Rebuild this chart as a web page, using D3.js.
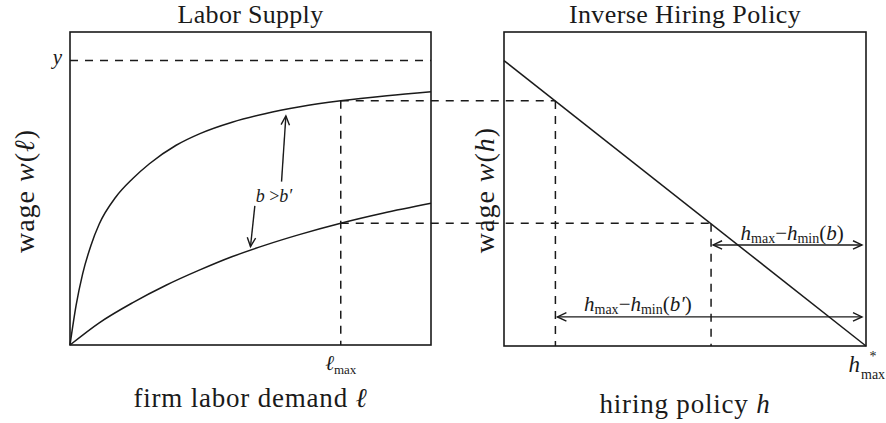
<!DOCTYPE html>
<html><head><meta charset="utf-8">
<script src="https://cdn.jsdelivr.net/npm/d3@7"></script>
<style>body{margin:0;background:#fff} svg{display:block}</style>
</head><body><svg id="c" width="886" height="423"></svg>
<script>
// ---- data ----
const ellHigh  = [0, 0.17, 0.35, 0.58, 0.81, 1.27, 1.74, 2.2, 2.94, 3.6, 4.49, 5.4, 6.37, 7.5, 8.78, 10];
const wageHigh = [0, 0.14, 0.25, 0.35, 0.425, 0.52, 0.585, 0.637, 0.702, 0.743, 0.783, 0.813, 0.837, 0.858, 0.876, 0.89];
const ellLow   = [0, 0.81, 1.74, 2.66, 3.58, 4.5, 5.43, 6.35, 7.5, 8.66, 10];
const wageLow  = [0, 0.078, 0.149, 0.21, 0.263, 0.311, 0.352, 0.388, 0.428, 0.463, 0.498];
const policyH  = [0, 10];
const policyW  = [1, 0];
const yLevel   = 1;
const ellMax   = 7.5;
const hMaxStar = 10;
const titles   = ["Labor Supply", "Inverse Hiring Policy"];
// annotation anchors (data units)
const bArrows  = [{from:[5.86,0.574], to:[5.98,0.805]}, {from:[5.12,0.489], to:[5.0,0.346]}];
const bLabel   = [5.65, 0.503];
const gapArrowW = [0.354, 0.102];
const gapLabelH = [7.96, 3.70];

const svg = d3.select("#c");
const FONT = "'Liberation Serif','Times New Roman',serif";
const INK = "#1a1a1a";

const xL = d3.scaleLinear().domain([0,10]).range([70,431]);
const yL = d3.scaleLinear().domain([0,1.1]).range([345,32]);
const xR = d3.scaleLinear().domain([0,10]).range([504,866]);
const yR = d3.scaleLinear().domain([0,1.1]).range([346,32]);

const wHighAt = d3.scaleLinear().domain(ellHigh).range(wageHigh);
const wLowAt  = d3.scaleLinear().domain(ellLow).range(wageLow);
const hAtW    = d3.scaleLinear().domain(policyW).range(policyH);

const wB  = wHighAt(ellMax), wB2 = wLowAt(ellMax);
const hMinB = hAtW(wB), hMinB2 = hAtW(wB2);

const dash = "8,7";
function line(x1,y1,x2,y2,opts={}) {
  return svg.append("line").attr("x1",x1).attr("y1",y1).attr("x2",x2).attr("y2",y2)
    .attr("stroke",INK).attr("stroke-width",opts.w||1.5).attr("stroke-dasharray",opts.dash||null);
}
function head(x1,y1,x2,y2) { // V head at (x2,y2)
  const a = Math.atan2(y2-y1,x2-x1), L=9, H=4.2;
  const bx = x2-L*Math.cos(a), by = y2-L*Math.sin(a);
  const px = -Math.sin(a)*H, py = Math.cos(a)*H;
  svg.append("path").attr("d",`M${bx+px},${by+py}L${x2},${y2}L${bx-px},${by-py}`)
    .attr("fill","none").attr("stroke",INK).attr("stroke-width",1.4);
}

// ---- dashed guides ----
line(xL(0), yL(yLevel), xL(10), yL(yLevel), {dash});
line(xL(ellMax), yL(wB), xR(hMinB), yL(wB), {dash});
line(xL(ellMax), yL(wB2), xR(hMinB2), yL(wB2), {dash});
line(xL(ellMax), yL(wB), xL(ellMax), yL(0), {dash});
line(xR(hMinB), yR(wB), xR(hMinB), yR(0), {dash});
line(xR(hMinB2), yR(wB2), xR(hMinB2), yR(0), {dash});

// ---- curves ----
const lineGen = d3.line().curve(d3.curveMonotoneX);
svg.append("path").attr("d", lineGen(ellHigh.map((e,i)=>[xL(e), yL(wageHigh[i])])))
  .attr("fill","none").attr("stroke",INK).attr("stroke-width",1.5);
svg.append("path").attr("d", lineGen(ellLow.map((e,i)=>[xL(e), yL(wageLow[i])])))
  .attr("fill","none").attr("stroke",INK).attr("stroke-width",1.5);
svg.append("path").attr("d", d3.line()(policyH.map((h,i)=>[xR(h), yR(policyW[i])])))
  .attr("fill","none").attr("stroke",INK).attr("stroke-width",1.5);

// ---- frames ----
svg.append("rect").attr("x",xL(0)).attr("y",yL(1.1)).attr("width",xL(10)-xL(0)).attr("height",yL(0)-yL(1.1))
  .attr("fill","none").attr("stroke",INK).attr("stroke-width",1.6);
svg.append("rect").attr("x",xR(0)).attr("y",yR(1.1)).attr("width",xR(10)-xR(0)).attr("height",yR(0)-yR(1.1))
  .attr("fill","none").attr("stroke",INK).attr("stroke-width",1.6);

// ---- b > b' arrows ----
bArrows.forEach(a=>{
  const x1=xL(a.from[0]), y1=yL(a.from[1]), x2=xL(a.to[0]), y2=yL(a.to[1]);
  line(x1,y1,x2,y2,{w:1.4}); head(x1,y1,x2,y2);
});
const bt = svg.append("text").attr("x",xL(bLabel[0])).attr("y",yL(bLabel[1])).attr("text-anchor","middle")
  .attr("font-family",FONT).attr("font-size",18).attr("fill",INK);
bt.append("tspan").attr("font-style","italic").text("b");
bt.append("tspan").text(" >");
bt.append("tspan").attr("font-style","italic").text("b′");

// ---- gap double arrows ----
[[hMinB2, gapArrowW[0]], [hMinB, gapArrowW[1]]].forEach(([h0,w])=>{
  const x1=xR(h0)+2, x2=xR(hMaxStar)-4, y=yR(w);
  line(x1,y,x2,y,{w:1.4}); head(x2,y,x1,y); head(x1,y,x2,y);
});
function gapLabel(hx, y, arg) {
  const t = svg.append("text").attr("x",xR(hx)).attr("y",y).attr("text-anchor","middle")
    .attr("font-family",FONT).attr("font-size",21).attr("fill",INK);
  t.append("tspan").attr("font-style","italic").text("h");
  t.append("tspan").attr("font-size",14).attr("dy",3).text("max");
  t.append("tspan").attr("dy",-3).text("−");
  t.append("tspan").attr("font-style","italic").text("h");
  t.append("tspan").attr("font-size",14).attr("dy",3).text("min");
  t.append("tspan").attr("dy",-3).text("(");
  t.append("tspan").attr("font-style","italic").text(arg);
  t.append("tspan").text(")");
}
gapLabel(gapLabelH[0], yR(gapArrowW[0])-5, "b");
gapLabel(gapLabelH[1], yR(gapArrowW[1])-6, "b′");

// ---- titles ----
svg.append("text").attr("x",(xL(0)+xL(10))/2).attr("y",23).attr("text-anchor","middle")
  .attr("font-family",FONT).attr("font-size",26).attr("letter-spacing",0.3).attr("fill",INK).text(titles[0]);
svg.append("text").attr("x",(xR(0)+xR(10))/2).attr("y",23).attr("text-anchor","middle")
  .attr("font-family",FONT).attr("font-size",26).attr("letter-spacing",0.4).attr("fill",INK).text(titles[1]);

// ---- axis labels ----
const xl1 = svg.append("text").attr("x",(xL(0)+xL(10))/2).attr("y",407).attr("text-anchor","middle")
  .attr("font-family",FONT).attr("font-size",27).attr("letter-spacing",0.8).attr("fill",INK);
xl1.append("tspan").text("firm labor demand ");
xl1.append("tspan").attr("font-style","italic").text("ℓ");
const xl2 = svg.append("text").attr("x",(xR(0)+xR(10))/2).attr("y",413).attr("text-anchor","middle")
  .attr("font-family",FONT).attr("font-size",27).attr("letter-spacing",0.8).attr("fill",INK);
xl2.append("tspan").text("hiring policy ");
xl2.append("tspan").attr("font-style","italic").text("h");

function ylab(x, y, v) {
  const t = svg.append("text").attr("transform",`translate(${x},${y}) rotate(-90)`).attr("text-anchor","middle")
    .attr("font-family",FONT).attr("font-size",28).attr("letter-spacing",1).attr("fill",INK);
  t.append("tspan").text("wage ");
  t.append("tspan").attr("font-style","italic").text("w");
  t.append("tspan").text("(");
  t.append("tspan").attr("font-style","italic").text(v);
  t.append("tspan").text(")");
}
ylab(34, 191, "ℓ");
ylab(494, 190, "h");

// ---- tick-like labels ----
svg.append("text").attr("x",xL(0)-8).attr("y",yL(yLevel)+4).attr("text-anchor","end")
  .attr("font-family",FONT).attr("font-size",21).attr("font-style","italic").attr("fill",INK).text("y");
const lm = svg.append("text").attr("x",xL(ellMax)).attr("y",370).attr("text-anchor","middle")
  .attr("font-family",FONT).attr("font-size",21).attr("fill",INK);
lm.append("tspan").attr("font-style","italic").text("ℓ");
lm.append("tspan").attr("font-size",13).attr("dy",4).text("max");
svg.append("text").attr("x",xR(hMaxStar)-6).attr("y",372).attr("text-anchor","end")
  .attr("font-family",FONT).attr("font-size",23).attr("font-style","italic").attr("fill",INK).text("h");
svg.append("text").attr("x",xR(hMaxStar)-5).attr("y",379)
  .attr("font-family",FONT).attr("font-size",14).attr("fill",INK).text("max");
svg.append("text").attr("x",xR(hMaxStar)+7).attr("y",361).attr("text-anchor","middle")
  .attr("font-family",FONT).attr("font-size",14).attr("fill",INK).text("*");
</script></body></html>
